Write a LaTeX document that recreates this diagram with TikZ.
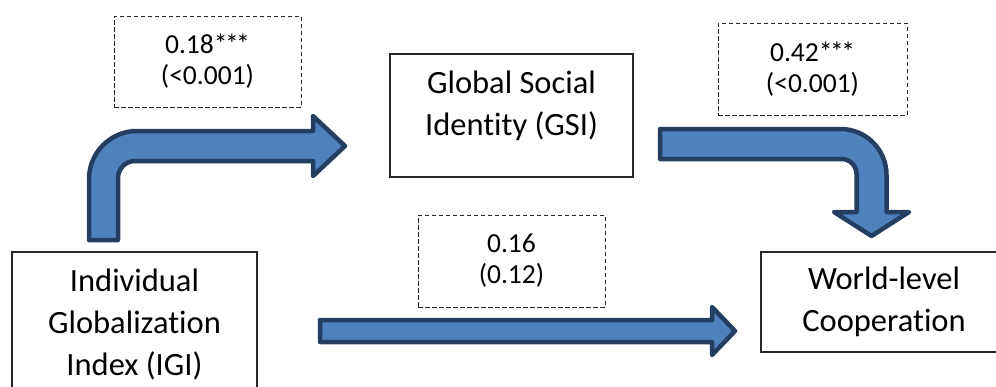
\documentclass[tikz,border=0pt]{standalone}
\usepackage{fontspec}
\setmainfont{Carlito}[Ligatures=NoCommon]
\definecolor{arrowfill}{HTML}{4F81BD}
\definecolor{arrowline}{RGB}{36,62,98}
\definecolor{boxline}{RGB}{40,40,40}
\newcommand{\stars}{*\kern-2.5pt*\kern-2.5pt*}
\begin{document}
\begin{tikzpicture}[x=1pt,y=-1pt,
  box/.style={draw=boxline, line width=1.4pt},
  valbox/.style={draw=boxline, line width=1pt, dash pattern=on 4.5pt off 2.5pt, align=center, font=\fontsize{27.5}{31}\selectfont},
  bigtext/.style={align=center, font=\fontsize{32.5}{42}\selectfont},
  blockarrow/.style={fill=arrowfill, draw=arrowline, line width=4.5pt, line join=round}]
\clip (0,0) rectangle (996,386);
% boxes
\node[box, bigtext, minimum width=245, minimum height=144] (igi) at (134.5,324) {Individual\\Globalization\\Index (IGI)};
\node[box, minimum width=243, minimum height=123] (gsi) at (511.5,115.5) {};
\node[bigtext] (gsitext) at (511.5,106) {Global Social\\Identity (GSI)};
\node[box, bigtext, minimum width=246, minimum height=100] (wlc) at (884,302) {World-level\\Cooperation};
% value boxes
\node[valbox, minimum width=187, minimum height=91] (v1) at (207.5,61.5) {0.18\stars\\(<0.001)};
\node[valbox, minimum width=189, minimum height=92] (v2) at (812.5,69) {0.42\stars\\(<0.001)};
\node[valbox, minimum width=187, minimum height=92] (v3) at (511.5,261) {0.16\\(0.12)};
% block arrows
\draw[blockarrow] (89,240) -- (89,179) .. controls (89,152.5) and (110.5,131) .. (137,131) -- (313,131) -- (313,116) -- (345,146) -- (313,176) -- (313,161) -- (135,161) .. controls (125.6,161) and (118,168.6) .. (118,178) -- (118,240) -- cycle;
\draw[blockarrow] (660,129) -- (840.5,129) .. controls (865.9,129) and (886.5,149.6) .. (886.5,175) -- (886.5,212) -- (909,212) -- (871.5,236) -- (834,212) -- (856.5,212) -- (856.5,174) .. controls (856.5,165.7) and (849.8,159) .. (841.5,159) -- (660,159) -- cycle;
\draw[blockarrow] (320,320) -- (712,320) -- (712,307) -- (735,331) -- (712,355) -- (712,342) -- (320,342) -- cycle;
\end{tikzpicture}
\end{document}
